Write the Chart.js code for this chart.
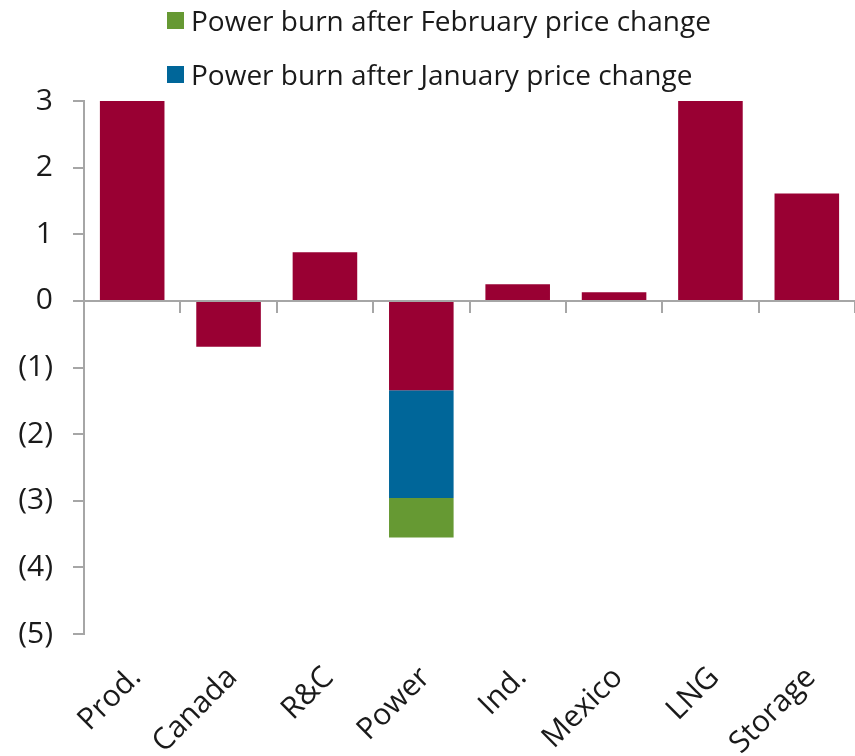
<!DOCTYPE html>
<html lang="en">
<head>
  <meta charset="UTF-8">
  <title>Balance changes by sector</title>
  <script src="https://cdn.jsdelivr.net/npm/chart.js"></script>
  <style>
    body { margin: 0; background: #fff; font-family: 'Open Sans', sans-serif; }
    .wrap { position: relative; width: 855px; height: 756px; overflow: hidden; }
    #legend { position: absolute; left: 167px; top: 0; }
    .item { display: flex; align-items: center; height: 40px; font-size: 28px; color: #1a1a1a; }
    .item + .item { margin-top: 14px; }
    .swatch { width: 17px; height: 17px; margin-right: 7px; }
  </style>
</head>
<body>
<div class="wrap">
  <canvas id="balChart"></canvas>
  <div id="legend"></div>
</div>
<script>
  const categories = ['Prod.', 'Canada', 'R&C', 'Power', 'Ind.', 'Mexico', 'LNG', 'Storage'];
  // Prod. and LNG run off the top of the chart; the true values are guesses above 3
  const changeValues = [3.4, -0.69, 0.73, -1.34, 0.25, 0.13, 3.3, 1.61];
  const januaryValues = [null, null, null, -1.62, null, null, null, null];
  const februaryValues = [null, null, null, -0.59, null, null, null, null];
  const yTicks = [3, 2, 1, 0, -1, -2, -3, -4, -5];

  const crimson = '#990033', blue = '#006699', green = '#669933';
  const axisGray = '#a6a6a6', textColor = '#1a1a1a';

  const ctx = document.getElementById('balChart').getContext('2d');
  const chart = new Chart(ctx, {
    type: 'bar',
    data: {
      labels: categories,
      datasets: [
        { label: 'Change', data: changeValues, backgroundColor: crimson, inLegend: false },
        { label: 'Power burn after January price change', data: januaryValues, backgroundColor: blue, inLegend: true },
        { label: 'Power burn after February price change', data: februaryValues, backgroundColor: green, inLegend: true }
      ]
    },
    options: {
      responsive: true,
      maintainAspectRatio: false,
      animation: false,
      datasets: { bar: { categoryPercentage: 1, barPercentage: 0.67 } },
      layout: { padding: { top: 101, left: 0, right: 0, bottom: 0 } },
      plugins: { legend: { display: false }, tooltip: { enabled: false } },
      scales: {
        x: {
          stacked: true,
          grid: { display: false, drawTicks: false },
          border: { display: false },
          afterFit: s => { s.height = 122; s.paddingRight = 0; },
          ticks: {
            color: textColor, font: { family: 'Open Sans', size: 30 },
            minRotation: 45, maxRotation: 45, padding: 26, labelOffset: 4, autoSkip: false
          }
        },
        x2: {
          type: 'category',
          labels: categories,
          position: { y: 0 },
          offset: true,
          grid: { offset: true, drawOnChartArea: false, color: axisGray, lineWidth: 2, tickLength: 11 },
          border: { color: axisGray, width: 2 },
          ticks: { display: false }
        },
        y: {
          stacked: true,
          min: -5, max: 3,
          afterBuildTicks: s => { s.ticks = yTicks.map(v => ({ value: v })); },
          afterFit: s => { s.width = 84; },
          grid: { drawOnChartArea: false, color: axisGray, lineWidth: 2, tickLength: 11 },
          border: { color: axisGray, width: 2 },
          ticks: {
            color: textColor, font: { family: 'Open Sans', size: 30 }, padding: 20,
            callback: v => v < 0 ? '(' + (-v) + ')' : String(v)
          }
        }
      }
    }
  });

  // legend: February first, then January, as in the source chart
  const legendEl = document.getElementById('legend');
  chart.data.datasets.filter(d => d.inLegend).reverse().forEach(d => {
    const item = document.createElement('div');
    item.className = 'item';
    const sw = document.createElement('span');
    sw.className = 'swatch';
    sw.style.background = d.backgroundColor;
    item.appendChild(sw);
    item.appendChild(document.createTextNode(d.label));
    legendEl.appendChild(item);
  });
</script>
</body>
</html>
